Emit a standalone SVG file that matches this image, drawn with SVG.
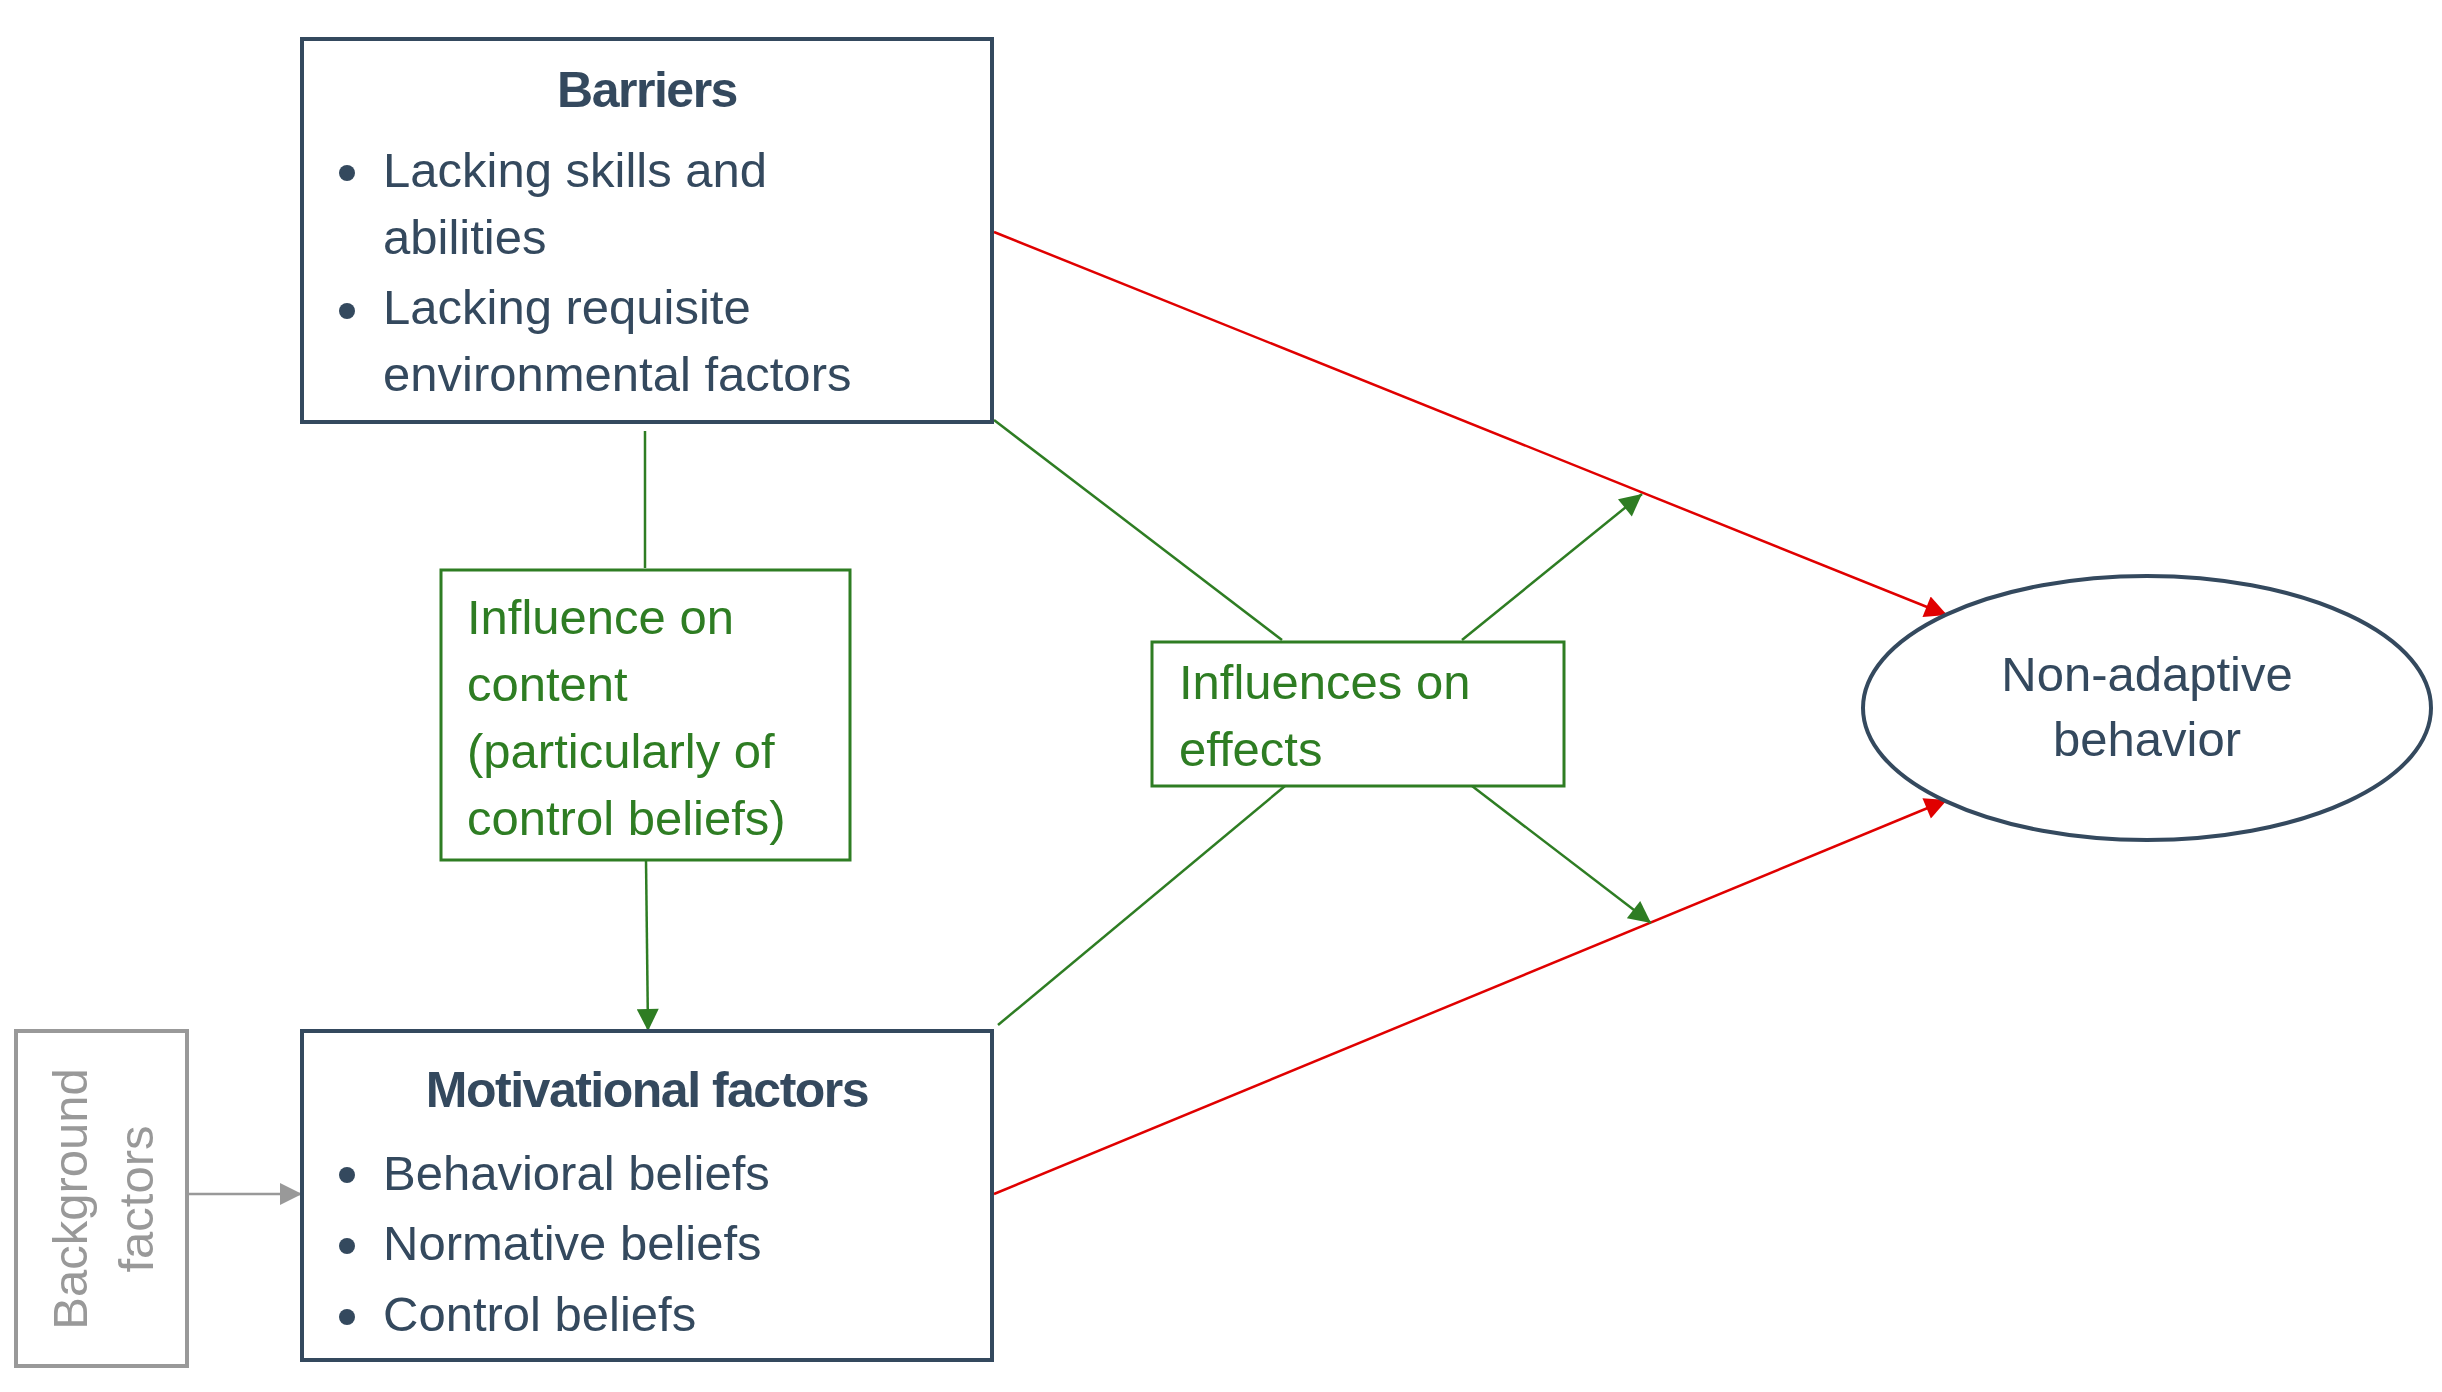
<svg xmlns="http://www.w3.org/2000/svg" width="2442" height="1392" viewBox="0 0 2442 1392">
<style>
text{font-family:"Liberation Sans",Arial,sans-serif}
.n{fill:#fff;stroke:#34495e;stroke-width:4}
.t{fill:#34495e;font-size:49px}
.h{fill:#34495e;font-size:50px;font-weight:bold;text-anchor:middle;letter-spacing:-1.5px}
.g{fill:#2e7d23;font-size:49px}
.gb{fill:#fff;stroke:#2e7d23;stroke-width:3}
.lg{stroke:#2e7d23;stroke-width:2.5;fill:none}
.lr{stroke:#e00000;stroke-width:2.5;fill:none}
.ly{stroke:#999;stroke-width:2.5;fill:none}
</style>
<defs>
<marker id="ag" viewBox="0 0 10 10" refX="10" refY="5" markerWidth="10" markerHeight="10" markerUnits="userSpaceOnUse" orient="auto"><path d="M0,0L10,5L0,10z" fill="#2e7d23" transform="scale(1)"/></marker>
<marker id="agb" viewBox="0 0 10 10" refX="10" refY="5" markerWidth="26" markerHeight="22" markerUnits="userSpaceOnUse" orient="auto"><path d="M0,0L10,5L0,10z" fill="#2e7d23"/></marker>
<marker id="ar" viewBox="0 0 10 10" refX="10" refY="5" markerWidth="26" markerHeight="22" markerUnits="userSpaceOnUse" orient="auto"><path d="M0,0L10,5L0,10z" fill="#e00000"/></marker>
<marker id="ay" viewBox="0 0 10 10" refX="10" refY="5" markerWidth="26" markerHeight="22" markerUnits="userSpaceOnUse" orient="auto"><path d="M0,0L10,5L0,10z" fill="#999"/></marker>
</defs>
<g id="connectors">
<path class="lr" d="M994,232L1947,615" marker-end="url(#ar)"/>
<path class="lr" d="M994,1194L1947,800" marker-end="url(#ar)"/>
<path class="lg" d="M645,431L645,568"/>
<path class="lg" d="M646,860L648,1031" marker-end="url(#agb)"/>
<path class="lg" d="M994,420L1282,640"/>
<path class="lg" d="M998,1025L1285,786"/>
<path class="lg" d="M1462,640L1642,494" marker-end="url(#agb)"/>
<path class="lg" d="M1472,786L1651,923" marker-end="url(#agb)"/>
<path class="ly" d="M187,1194L302,1194" marker-end="url(#ay)"/>
</g>
<g id="barriers">
<rect class="n" x="302" y="39" width="690" height="383"/>
<text class="h" x="647" y="107">Barriers</text>
<circle cx="347" cy="173" r="8" fill="#34495e"/>
<circle cx="347" cy="311" r="8" fill="#34495e"/>
<text class="t" x="383" y="187">Lacking skills and</text>
<text class="t" x="383" y="254">abilities</text>
<text class="t" x="383" y="324">Lacking requisite</text>
<text class="t" x="383" y="391">environmental factors</text>
</g>
<g id="motivational">
<rect class="n" x="302" y="1031" width="690" height="329"/>
<text class="h" x="647" y="1107">Motivational factors</text>
<circle cx="347" cy="1175" r="8" fill="#34495e"/>
<circle cx="347" cy="1246" r="8" fill="#34495e"/>
<circle cx="347" cy="1317" r="8" fill="#34495e"/>
<text class="t" x="383" y="1190">Behavioral beliefs</text>
<text class="t" x="383" y="1260">Normative beliefs</text>
<text class="t" x="383" y="1331">Control beliefs</text>
</g>
<g id="background">
<rect x="16" y="1031" width="171" height="335" fill="#fff" stroke="#999" stroke-width="4"/>
<text font-size="49" fill="#999" text-anchor="middle" transform="translate(87,1199) rotate(-90)"><tspan x="0" y="0">Background</tspan><tspan x="0" y="66">factors</tspan></text>
</g>
<g id="content">
<rect class="gb" x="441" y="570" width="409" height="290"/>
<text class="g" x="467" y="634">Influence on</text>
<text class="g" x="467" y="701">content</text>
<text class="g" x="467" y="768">(particularly of</text>
<text class="g" x="467" y="835">control beliefs)</text>
</g>
<g id="effects">
<rect class="gb" x="1152" y="642" width="412" height="144"/>
<text class="g" x="1179" y="699">Influences on</text>
<text class="g" x="1179" y="766">effects</text>
</g>
<g id="nonadaptive">
<ellipse class="n" cx="2147" cy="708" rx="284" ry="132"/>
<text class="t" x="2147" y="691" text-anchor="middle">Non-adaptive</text>
<text class="t" x="2147" y="756" text-anchor="middle">behavior</text>
</g>
</svg>
